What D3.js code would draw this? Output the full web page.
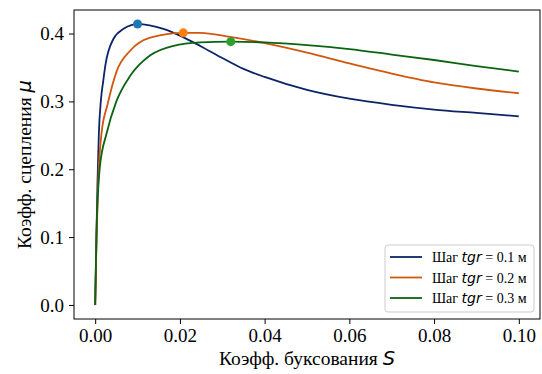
<!DOCTYPE html>
<html>
<head>
<meta charset="utf-8">
<script src="https://cdn.jsdelivr.net/npm/d3@7"></script>
<style>
  body { margin: 0; background: #fff; }
  svg text { font-family: "Liberation Serif", "Times New Roman", serif; fill: #000; }
  .math { font-family: "DejaVu Sans", sans-serif; font-style: italic; }
</style>
</head>
<body>
<div id="chart"></div>
<script>
// slip coefficient S and adhesion coefficient mu
const s1 = [0, 0.0003, 0.00054, 0.00087, 0.00134, 0.0019, 0.0024, 0.0043, 0.0067, 0.0100, 0.0161, 0.020, 0.025, 0.030, 0.035, 0.040, 0.050, 0.060, 0.070, 0.080, 0.090, 0.100];
const mu1 = [0, 0.10, 0.179, 0.253, 0.301, 0.33, 0.353, 0.392, 0.407, 0.414, 0.407, 0.397, 0.381, 0.364, 0.348, 0.336, 0.317, 0.304, 0.295, 0.288, 0.283, 0.278];

const s2 = [0, 0.0003, 0.0007, 0.0015, 0.0029, 0.0051, 0.0083, 0.013, 0.0208, 0.0248, 0.0318, 0.040, 0.050, 0.060, 0.070, 0.080, 0.090, 0.100];
const mu2 = [0, 0.091, 0.179, 0.253, 0.295, 0.345, 0.375, 0.394, 0.401, 0.401, 0.395, 0.386, 0.372, 0.356, 0.341, 0.328, 0.319, 0.312];

const s3 = [0, 0.0003, 0.0011, 0.0027, 0.005, 0.0083, 0.013, 0.0185, 0.0248, 0.032, 0.040, 0.050, 0.060, 0.070, 0.080, 0.090, 0.100];
const mu3 = [0, 0.106, 0.203, 0.253, 0.300, 0.338, 0.368, 0.382, 0.387, 0.388, 0.387, 0.383, 0.377, 0.369, 0.361, 0.352, 0.344];

// maxima marked with dots
const peakS = [0.0100, 0.0208, 0.0320];
const peakMu = [0.414, 0.401, 0.388];

const labels = ['0.1', '0.2', '0.3'];
const xTicks = [0, 0.02, 0.04, 0.06, 0.08, 0.10];
const yTicks = [0, 0.1, 0.2, 0.3, 0.4];

const lineColors = ['#0b2466', '#d3560f', '#0a6410'];
const dotColors = ['#1f77b4', '#ff7f0e', '#2ca02c'];

const width = 542, height = 374;
const mLeft = 74, mRight = 540, mTop = 10, mBottom = 319;

const svg = d3.select('#chart').append('svg')
  .attr('width', width)
  .attr('height', height);

const x = d3.scaleLinear().domain([-0.005, 0.105]).range([mLeft, mRight]);
const y = d3.scaleLinear().domain([-0.0207, 0.4347]).range([mBottom, mTop]);

// axes
svg.append('g')
  .attr('transform', 'translate(0,' + mBottom + ')')
  .call(d3.axisBottom(x).tickValues(xTicks).tickFormat(d3.format('.2f')).tickSizeOuter(0).tickSize(5).tickPadding(5))
  .call(g => g.select('.domain').remove())
  .selectAll('text').style('font-size', '19px').attr('font-family', null);

svg.append('g')
  .attr('transform', 'translate(' + mLeft + ',0)')
  .call(d3.axisLeft(y).tickValues(yTicks).tickFormat(d3.format('.1f')).tickSizeOuter(0).tickSize(5).tickPadding(5))
  .call(g => g.select('.domain').remove())
  .selectAll('text').style('font-size', '19px').attr('font-family', null);

svg.selectAll('.tick line').attr('stroke', '#000').attr('stroke-width', 1);

// lines
const series = [
  s1.map((d, i) => [d, mu1[i]]),
  s2.map((d, i) => [d, mu2[i]]),
  s3.map((d, i) => [d, mu3[i]])
];

const line = d3.line()
  .x(d => x(d[0]))
  .y(d => y(d[1]))
  .curve(d3.curveMonotoneX);

svg.append('g').selectAll('path')
  .data(series)
  .join('path')
    .attr('fill', 'none')
    .attr('stroke', (d, i) => lineColors[i])
    .attr('stroke-width', 1.8)
    .attr('d', line);

svg.append('g').selectAll('circle')
  .data(peakS)
  .join('circle')
    .attr('cx', d => x(d))
    .attr('cy', (d, i) => y(peakMu[i]))
    .attr('r', 4.5)
    .attr('fill', (d, i) => dotColors[i]);

// frame
svg.append('rect')
  .attr('x', mLeft).attr('y', mTop)
  .attr('width', mRight - mLeft).attr('height', mBottom - mTop)
  .attr('fill', 'none').attr('stroke', '#000').attr('stroke-width', 1);

// axis labels
const xl = svg.append('text')
  .attr('x', (mLeft + mRight) / 2)
  .attr('y', 365)
  .attr('text-anchor', 'middle')
  .style('font-size', '19.5px')
  .text('Коэфф. буксования ');
xl.append('tspan').attr('class', 'math').text('S');

const yl = svg.append('text')
  .attr('transform', 'translate(31,' + ((mTop + mBottom) / 2) + ') rotate(-90)')
  .attr('text-anchor', 'middle')
  .style('font-size', '19.5px')
  .text('Коэфф. сцепления ');
yl.append('tspan').attr('class', 'math').text('μ');

// legend
const legend = svg.append('g');
legend.append('rect')
  .attr('x', 385).attr('y', 245)
  .attr('width', 149).attr('height', 67)
  .attr('rx', 3)
  .attr('fill', '#fff').attr('fill-opacity', 0.8)
  .attr('stroke', '#cccccc');

labels.forEach((lab, i) => {
  const cy = 257 + i * 20.5;
  legend.append('line')
    .attr('x1', 390).attr('x2', 422)
    .attr('y1', cy).attr('y2', cy)
    .attr('stroke', lineColors[i]).attr('stroke-width', 1.8);
  const t = legend.append('text')
    .attr('x', 432).attr('y', cy + 5)
    .style('font-size', '14px')
    .text('Шаг ');
  t.append('tspan').attr('class', 'math').text('tgr');
  t.append('tspan').text(' = ' + lab + ' м');
});
</script>
</body>
</html>
